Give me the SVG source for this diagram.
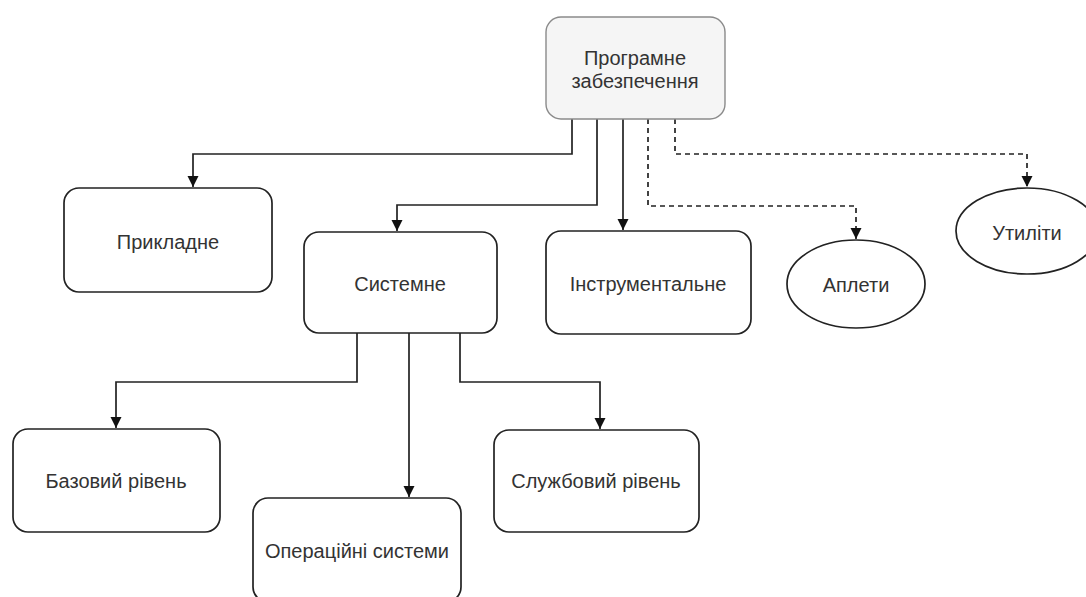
<svg xmlns="http://www.w3.org/2000/svg" width="1086" height="597" viewBox="0 0 1086 597">
<style>
.box{fill:#fff;stroke:#222;stroke-width:1.7}
.top{fill:#f5f5f5;stroke:#8a8a8a;stroke-width:1.4}
.t{font-family:"Liberation Sans",Arial,sans-serif;font-size:20px;fill:#333;text-anchor:middle;dominant-baseline:central}
.c{fill:none;stroke:#222;stroke-width:1.7}
.d{fill:none;stroke:#222;stroke-width:1.7;stroke-dasharray:5 4}
</style>
<defs>
<marker id="ah" markerWidth="12" markerHeight="12" refX="11" refY="6" orient="auto" markerUnits="userSpaceOnUse">
<path d="M0,0.5 L11,6 L0,11.5 Z" fill="#111"/>
</marker>
</defs>
<rect width="1086" height="597" fill="#fff"/>
<g id="connectors">
<path class="c" d="M572,119 V154 H193 V187" marker-end="url(#ah)"/>
<path class="c" d="M597,119 V205 H397 V231" marker-end="url(#ah)"/>
<path class="c" d="M623,119 V230" marker-end="url(#ah)"/>
<path class="d" d="M648,119 V206 H856 V239" marker-end="url(#ah)"/>
<path class="d" d="M675,119 V154 H1027 V187" marker-end="url(#ah)"/>
<path class="c" d="M357,333 V382 H116 V428" marker-end="url(#ah)"/>
<path class="c" d="M409,333 V497" marker-end="url(#ah)"/>
<path class="c" d="M460,333 V382 H600 V429" marker-end="url(#ah)"/>
</g>
<g id="n-root">
<rect class="top" x="546" y="17" width="179" height="102" rx="15"/>
<text class="t" x="635" y="58">Програмне</text>
<text class="t" x="635" y="81">забезпечення</text>
</g>
<g id="n-prykladne">
<rect class="box" x="64" y="188" width="208" height="104" rx="15"/>
<text class="t" x="168" y="242">Прикладне</text>
</g>
<g id="n-systemne">
<rect class="box" x="304" y="232" width="193" height="101" rx="15"/>
<text class="t" x="400" y="284">Системне</text>
</g>
<g id="n-instrumentalne">
<rect class="box" x="546" y="231" width="205" height="103" rx="15"/>
<text class="t" x="648" y="284">Інструментальне</text>
</g>
<g id="n-aplety">
<ellipse class="box" cx="856" cy="284" rx="69" ry="44"/>
<text class="t" x="856" y="285">Аплети</text>
</g>
<g id="n-utyliti">
<ellipse class="box" cx="1027" cy="231" rx="71" ry="43"/>
<text class="t" x="1027" y="233">Утиліти</text>
</g>
<g id="n-bazovyi">
<rect class="box" x="13" y="429" width="207" height="103" rx="15"/>
<text class="t" x="116" y="481">Базовий рівень</text>
</g>
<g id="n-operatsiini">
<rect class="box" x="253" y="498" width="208" height="104" rx="15"/>
<text class="t" x="357" y="551">Операційні системи</text>
</g>
<g id="n-sluzhbovyi">
<rect class="box" x="494" y="430" width="205" height="102" rx="15"/>
<text class="t" x="596" y="481">Службовий рівень</text>
</g>
</svg>
